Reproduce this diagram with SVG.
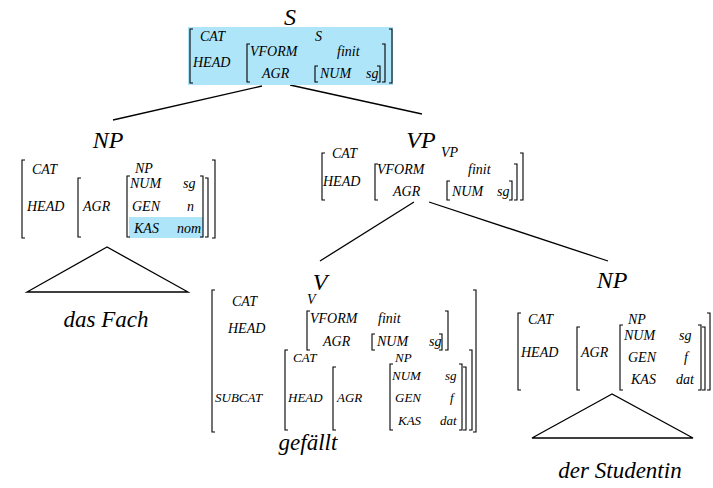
<svg xmlns="http://www.w3.org/2000/svg" width="713" height="488" viewBox="0 0 713 488">
<style>
.lbl{font-size:23px}
.cat{font-size:24px}
.f{font-size:14px}
.s{font-size:13px}
.br{fill:none;stroke:#000;stroke-width:1.1}
.ln{fill:none;stroke:#000;stroke-width:1.3}
.hl{fill:#aee5f8}
.m{text-anchor:middle}
</style>
<rect width="713" height="488" fill="#fff"/>
<g font-family="'Liberation Serif', 'Times New Roman', serif" font-style="italic" fill="#000">
<g id="connectors">
<line class="ln" x1="262" y1="86" x2="113" y2="120"/>
<line class="ln" x1="290" y1="85" x2="422" y2="114"/>
<line class="ln" x1="414" y1="202" x2="320" y2="261"/>
<line class="ln" x1="429" y1="202" x2="608" y2="261"/>
</g>
<g id="node-S">
<text class="cat m" x="290" y="25">S</text>
<rect class="hl" x="188" y="27" width="205" height="58"/>
<path class="br" d="M193,29H190V83H193 M250,44H247V82H250 M318,66H315V82H318 M377,66H380V82H377 M382,44H385V82H382 M389,29H392V83H389"/>
<text class="f" x="200" y="41">CAT</text>
<text class="f" x="315" y="41">S</text>
<text class="f" x="193" y="67">HEAD</text>
<text class="f" x="250" y="56">VFORM</text>
<text class="f" x="337" y="56">finit</text>
<text class="f" x="262" y="78">AGR</text>
<text class="f" x="320" y="78">NUM</text>
<text class="f" x="366" y="78">sg</text>
</g>
<g id="node-NP1">
<text class="cat m" x="108" y="148">NP</text>
<rect class="hl" x="129" y="217" width="74" height="21"/>
<path class="br" d="M25,160H22V238H25 M81,178H78V237H81 M130,176H127V237H130 M200,176H203V237H200 M205,178H208V237H205 M212,160H215V238H212"/>
<text class="f" x="32" y="174">CAT</text>
<text class="f" x="135" y="173">NP</text>
<text class="f" x="27" y="211">HEAD</text>
<text class="f" x="83" y="211">AGR</text>
<text class="f" x="130" y="188">NUM</text>
<text class="f" x="183" y="188">sg</text>
<text class="f" x="132" y="211">GEN</text>
<text class="f" x="187" y="211">n</text>
<text class="f" x="134" y="233">KAS</text>
<text class="f" x="177" y="233">nom</text>
</g>
<g id="leaf-dasFach">
<path class="ln" d="M107,247L27,292H188Z"/>
<text class="lbl m" x="106" y="327">das Fach</text>
</g>
<g id="node-VP">
<text class="cat m" x="421" y="148">VP</text>
<path class="br" d="M325,153H322V200H325 M378,164H375V200H378 M450,181H447V200H450 M509,181H512V200H509 M514,164H517V200H514 M520,153H523V200H520"/>
<text class="f" x="332" y="158">CAT</text>
<text class="f" x="441" y="157">VP</text>
<text class="f" x="323" y="186">HEAD</text>
<text class="f" x="377" y="174">VFORM</text>
<text class="f" x="468" y="174">finit</text>
<text class="f" x="393" y="196">AGR</text>
<text class="f" x="452" y="196">NUM</text>
<text class="f" x="497" y="196">sg</text>
</g>
<g id="node-V">
<text class="cat m" x="320" y="290">V</text>
<path class="br" d="M215,290H212V432H215 M310,311H307V350H310 M375,334H372V350H375 M439,334H442V350H439 M445,311H448V350H445 M288,350H285V430H288 M336,367H333V430H336 M393,364H390V430H393 M459,364H462V430H459 M463,367H466V430H463 M469,350H472V430H469 M473,290H476V432H473"/>
<text class="f" x="232" y="306">CAT</text>
<text class="f" x="307" y="304">V</text>
<text class="f" x="228" y="333">HEAD</text>
<text class="f" x="310" y="323">VFORM</text>
<text class="f" x="378" y="323">finit</text>
<text class="f" x="323" y="346">AGR</text>
<text class="f" x="377" y="346">NUM</text>
<text class="f" x="429" y="346">sg</text>
<text class="s" x="215" y="402">SUBCAT</text>
<text class="s" x="293" y="362">CAT</text>
<text class="s" x="395" y="362">NP</text>
<text class="s" x="288" y="402">HEAD</text>
<text class="s" x="337" y="402">AGR</text>
<text class="s" x="392" y="380">NUM</text>
<text class="s" x="445" y="380">sg</text>
<text class="s" x="395" y="402">GEN</text>
<text class="s" x="450" y="402">f</text>
<text class="s" x="398" y="425">KAS</text>
<text class="s" x="440" y="425">dat</text>
</g>
<g id="leaf-gefaellt">
<text class="lbl m" x="308" y="450">gefällt</text>
</g>
<g id="node-NP2">
<text class="cat m" x="612" y="288">NP</text>
<path class="br" d="M521,313H518V390H521 M580,327H577V390H580 M623,325H620V390H623 M698,325H701V390H698 M702,327H705V390H702 M707,313H710V390H707"/>
<text class="f" x="528" y="324">CAT</text>
<text class="f" x="628" y="324">NP</text>
<text class="f" x="521" y="357">HEAD</text>
<text class="f" x="581" y="357">AGR</text>
<text class="f" x="624" y="340">NUM</text>
<text class="f" x="679" y="340">sg</text>
<text class="f" x="628" y="362">GEN</text>
<text class="f" x="684" y="362">f</text>
<text class="f" x="631" y="384">KAS</text>
<text class="f" x="676" y="384">dat</text>
</g>
<g id="leaf-derStudentin">
<path class="ln" d="M612,394L532,438H693Z"/>
<text class="lbl m" x="620" y="478">der Studentin</text>
</g>
</g>
</svg>
